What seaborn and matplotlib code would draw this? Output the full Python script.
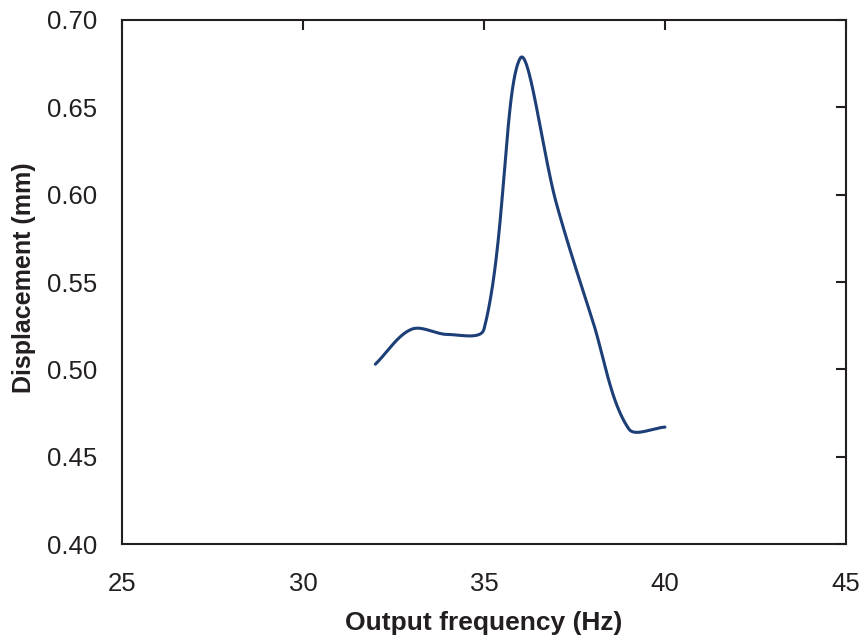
import numpy as np
import pandas as pd
import matplotlib
matplotlib.use("Agg")
import matplotlib.pyplot as plt
import seaborn as sns

# Data
frequency = [32, 33, 34, 35, 36, 37, 38, 39, 40]
displacement = [0.503, 0.523, 0.520, 0.523, 0.678, 0.595, 0.528, 0.466, 0.467]
x_ticks = [25, 30, 35, 40, 45]
y_ticks = [0.40, 0.45, 0.50, 0.55, 0.60, 0.65, 0.70]
x_label = "Output frequency (Hz)"
y_label = "Displacement (mm)"

sns.set_theme(style="white")
plt.rcParams['font.family'] = ['Liberation Sans', 'DejaVu Sans']

fig = plt.figure(figsize=(8.65, 6.41), dpi=100)
ax = fig.add_axes([0.141, 0.151, 0.837, 0.818])
ax.set_xlim(25, 45)
ax.set_ylim(0.40, 0.70)


def smooth_curve(ax, xs, ys, n=50):
    """Excel-like smoothed line rendering: bezier segments whose control
    points are scaled by chord lengths measured in display space."""
    pts = ax.transData.transform(np.column_stack([xs, ys]))
    P = np.vstack([2 * pts[0] - pts[1], pts, 2 * pts[-1] - pts[-2]])
    d = np.linalg.norm(np.diff(P, axis=0), axis=1)
    out = []
    for i in range(1, len(P) - 2):
        p0, p3 = P[i], P[i + 1]
        dprev, dcur, dnext = d[i - 1], d[i], d[i + 1]
        c1 = p0 + (P[i + 1] - P[i - 1]) * dcur / (dprev + dcur) / 3
        c2 = p3 - (P[i + 2] - P[i]) * dcur / (dcur + dnext) / 3
        t = np.linspace(0, 1, n, endpoint=(i == len(P) - 3))[:, None]
        b = (1 - t) ** 3 * p0 + 3 * (1 - t) ** 2 * t * c1 + 3 * (1 - t) * t ** 2 * c2 + t ** 3 * p3
        out.append(b)
    out = np.vstack(out)
    data = ax.transData.inverted().transform(out)
    return data[:, 0], data[:, 1]


sx, sy = smooth_curve(ax, frequency, displacement)
df = pd.DataFrame({"x": sx, "y": sy})

sns.lineplot(data=df, x="x", y="y", ax=ax, color="#1d3f77", linewidth=2.2,
             sort=False, estimator=None)

ax.set_xlim(25, 45)
ax.set_ylim(0.40, 0.70)
ax.set_xticks(x_ticks)
ax.set_yticks(y_ticks)
ax.set_xticklabels([str(v) for v in x_ticks])
ax.set_yticklabels([f"{v:.2f}" for v in y_ticks])

for s in ax.spines.values():
    s.set_visible(True)
    s.set_color("#231f20")
    s.set_linewidth(1.5)

ax.tick_params(axis="both", direction="in", length=7, width=1.5, color="#231f20",
               top=True, right=True, labelsize=18.5, labelcolor="#231f20")
ax.tick_params(axis="x", pad=20)
ax.tick_params(axis="y", pad=18)

ax.set_xlabel(x_label, fontsize=19, fontweight="bold", color="#231f20", labelpad=11)
ax.set_ylabel(y_label, fontsize=18, fontweight="bold", color="#231f20")
ax.yaxis.set_label_coords(-0.119, 0.5086)

fig.savefig("out.png", dpi=100)
